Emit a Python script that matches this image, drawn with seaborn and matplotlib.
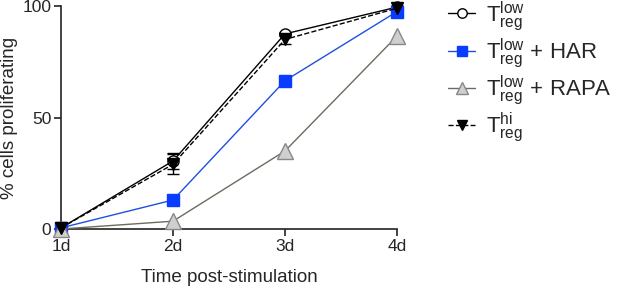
import matplotlib
matplotlib.use("Agg")
import matplotlib.pyplot as plt
import seaborn as sns
import pandas as pd
import numpy as np

sns.set_style("ticks")
plt.rcParams['font.family'] = ['Liberation Sans', 'DejaVu Sans']
plt.rcParams['mathtext.fontset'] = 'custom'
plt.rcParams['mathtext.rm'] = 'Liberation Sans'
plt.rcParams['mathtext.it'] = 'Liberation Sans'

days = ["1d", "2d", "3d", "4d"]
treg_low = [0.5, 30.5, 87.5, 99.5]
treg_low_err = [0.5, 3.5, 1.0, 0.5]
treg_har = [0.5, 13.0, 66.5, 97.5]
treg_rapa = [0.0, 3.5, 35.0, 86.5]
treg_hi = [0.5, 29.0, 85.0, 99.0]
treg_hi_err = [0.5, 4.5, 2.0, 0.5]

labels = [r"$\mathrm{T_{reg}^{low}}$",
          r"$\mathrm{T_{reg}^{low}}$ + HAR",
          r"$\mathrm{T_{reg}^{low}}$ + RAPA",
          r"$\mathrm{T_{reg}^{hi}}$"]

x = np.arange(len(days))

fig = plt.figure(figsize=(6.17, 2.86), dpi=100)
ax = fig.add_axes([61/617, 57/286, 336/617, 223/286])

series = [
    (treg_low, treg_low_err, dict(color="black", marker="o", markerfacecolor="white",
                                  markeredgecolor="black", linestyle="-", markersize=8)),
    (treg_har, None, dict(color="#1f4fe0", marker="s", markerfacecolor="#0a3cff",
                          markeredgecolor="#0a3cff", linestyle="-", markersize=8)),
    (treg_rapa, None, dict(color="#6e6a5e", marker="^", markerfacecolor="#cfcfcf",
                           markeredgecolor="#888888", linestyle="-", markersize=11)),
    (treg_hi, treg_hi_err, dict(color="black", marker="v", markerfacecolor="black",
                                markeredgecolor="black", linestyle="--", markersize=9)),
]

for (vals, err, st), lab in zip(series, labels):
    df = pd.DataFrame({"x": x, "y": vals})
    sns.lineplot(data=df, x="x", y="y", ax=ax, color=st["color"], linewidth=1.0,
                 linestyle=st["linestyle"], marker=st["marker"],
                 markersize=st["markersize"], markerfacecolor=st["markerfacecolor"],
                 markeredgecolor=st["markeredgecolor"], markeredgewidth=1.0,
                 clip_on=False, label=lab, zorder=3)
    if err is not None:
        ax.errorbar(x, vals, yerr=err, fmt="none", ecolor="black", elinewidth=1.0,
                    capsize=4, capthick=1.0, clip_on=False, zorder=2)

ax.set_xlim(0, 3)
ax.set_ylim(0, 100)
ax.set_xticks(x)
ax.set_xticklabels(days, fontsize=12.5)
ax.set_yticks([0, 50, 100])
ax.set_yticklabels(["0", "50", "100"], fontsize=12.5)
ax.set_xlabel("Time post-stimulation", fontsize=13.5, labelpad=11)
ax.set_ylabel("% cells proliferating", fontsize=13.5, labelpad=3)
for s in ["top", "right"]:
    ax.spines[s].set_visible(False)
for s in ["left", "bottom"]:
    ax.spines[s].set_linewidth(1.2)
    ax.spines[s].set_color("#222222")
ax.tick_params(axis="both", length=5, width=1.2, color="#222222", pad=2)

h, l = ax.get_legend_handles_labels()
leg = ax.legend(h, l, loc="upper left", bbox_to_anchor=(446/617, 1.01),
                bbox_transform=fig.transFigure, frameon=False, fontsize=16,
                handlelength=1.2, labelspacing=0.15, handletextpad=0.5,
                borderaxespad=0, borderpad=0.1, markerscale=0.85)

fig.savefig("out.png", dpi=100)
